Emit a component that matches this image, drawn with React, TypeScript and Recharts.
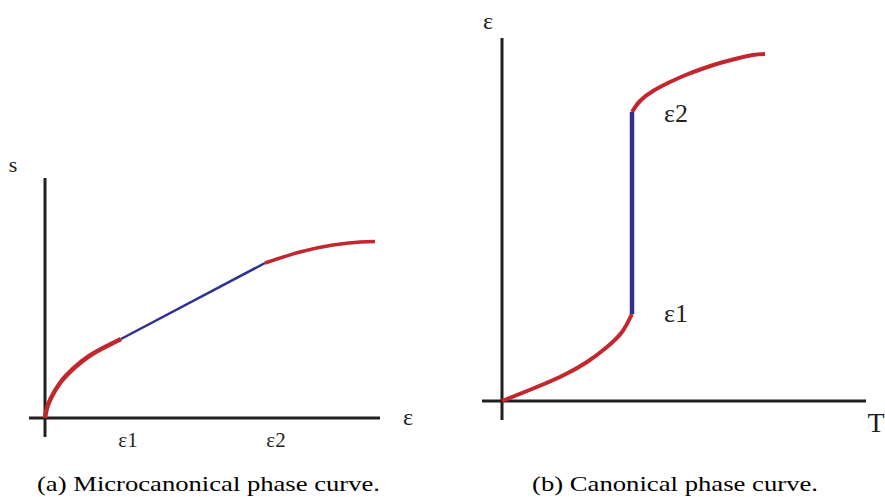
import React from "react";
import { LineChart, Line, XAxis, YAxis, ReferenceLine, ReferenceDot } from "recharts";

// (a) Microcanonical: entropy s versus energy ε
const microLow = [
  { x: 0, y: 0 },
  { x: 0.02, y: 0.1 },
  { x: 0.06, y: 0.2 },
  { x: 0.15, y: 0.35 },
  { x: 0.29, y: 0.5 },
  { x: 0.45, y: 0.625 },
  { x: 0.62, y: 0.72 },
  { x: 0.76, y: 0.79 },
];
const microTie = [
  { x: 0.76, y: 0.79 },
  { x: 2.2, y: 1.55 },
];
const microHigh = [
  { x: 2.2, y: 1.55 },
  { x: 2.55, y: 1.66 },
  { x: 2.88, y: 1.73 },
  { x: 3.15, y: 1.76 },
  { x: 3.3, y: 1.765 },
];

// (b) Canonical: energy ε versus temperature T
const canLow = [
  { x: 0, y: 0 },
  { x: 0.3, y: 0.12 },
  { x: 0.6, y: 0.25 },
  { x: 0.85, y: 0.39 },
  { x: 1.05, y: 0.54 },
  { x: 1.2, y: 0.69 },
  { x: 1.3, y: 0.87 },
];
const canJump = [
  { x: 1.3, y: 0.87 },
  { x: 1.3, y: 2.89 },
];
const canHigh = [
  { x: 1.3, y: 2.89 },
  { x: 1.38, y: 3.0 },
  { x: 1.51, y: 3.1 },
  { x: 1.68, y: 3.19 },
  { x: 1.85, y: 3.265 },
  { x: 2.01, y: 3.325 },
  { x: 2.18, y: 3.38 },
  { x: 2.35, y: 3.425 },
  { x: 2.51, y: 3.46 },
  { x: 2.63, y: 3.47 },
];

const microTickLabels = ["ε1", "ε2"];
const canTickLabels = ["ε2", "ε1"];
const captions = ["(a) Microcanonical phase curve.", "(b) Canonical phase curve."];

const RED = "#c1272d";
const BLUE = "#2e3192";
const INK = "#231f20";
const FONT = "Liberation Serif";

const textShape = (text: string, size: number) => (props: any) => (
  <text
    x={props.cx}
    y={props.cy}
    textAnchor="middle"
    style={{ fontFamily: FONT, fontSize: size }}
    fill={INK}
  >
    {text}
  </text>
);

export default function App() {
  return (
    <div style={{ position: "absolute", left: 0, top: 0, width: 885, height: 497, background: "#fff" }}>
      <div style={{ position: "absolute", left: 0, top: 150 }}>
        <LineChart width={440} height={310} margin={{ top: 0, right: 0, bottom: 0, left: 0 }}>
          <XAxis dataKey="x" type="number" domain={[-0.45, 3.95]} allowDataOverflow hide />
          <YAxis dataKey="y" type="number" domain={[-0.42, 2.68]} allowDataOverflow hide />
          <ReferenceLine segment={[{ x: -0.16, y: 0 }, { x: 3.35, y: 0 }]} stroke={INK} strokeWidth={3} />
          <ReferenceLine segment={[{ x: 0, y: -0.19 }, { x: 0, y: 2.4 }]} stroke={INK} strokeWidth={3} />
          <Line data={microTie} dataKey="y" type="linear" stroke={BLUE} strokeWidth={2.5} dot={false} activeDot={false} isAnimationActive={false} />
          <Line data={microLow} dataKey="y" type="natural" stroke={RED} strokeWidth={4.5} dot={false} activeDot={false} isAnimationActive={false} />
          <Line data={microHigh} dataKey="y" type="natural" stroke={RED} strokeWidth={3.5} dot={false} activeDot={false} isAnimationActive={false} />
          <ReferenceDot x={-0.32} y={2.46} r={0} shape={textShape("s", 22)} />
          <ReferenceDot x={3.63} y={-0.07} r={0} shape={textShape("ε", 24)} />
          <ReferenceDot x={0.83} y={-0.29} r={0} shape={textShape(microTickLabels[0], 21)} />
          <ReferenceDot x={2.31} y={-0.29} r={0} shape={textShape(microTickLabels[1], 21)} />
        </LineChart>
      </div>
      <div style={{ position: "absolute", left: 470, top: 0 }}>
        <LineChart width={415} height={440} margin={{ top: 0, right: 0, bottom: 0, left: 0 }}>
          <XAxis dataKey="x" type="number" domain={[-0.32, 3.83]} allowDataOverflow hide />
          <YAxis dataKey="y" type="number" domain={[-0.39, 4.01]} allowDataOverflow hide />
          <ReferenceLine segment={[{ x: -0.2, y: 0 }, { x: 3.64, y: 0 }]} stroke={INK} strokeWidth={3} />
          <ReferenceLine segment={[{ x: 0, y: -0.19 }, { x: 0, y: 3.63 }]} stroke={INK} strokeWidth={3} />
          <Line data={canJump} dataKey="y" type="linear" stroke={BLUE} strokeWidth={4.5} dot={false} activeDot={false} isAnimationActive={false} />
          <Line data={canLow} dataKey="y" type="natural" stroke={RED} strokeWidth={4} dot={false} activeDot={false} isAnimationActive={false} />
          <Line data={canHigh} dataKey="y" type="natural" stroke={RED} strokeWidth={4} dot={false} activeDot={false} isAnimationActive={false} />
          <ReferenceDot x={-0.14} y={3.72} r={0} shape={textShape("ε", 24)} />
          <ReferenceDot x={3.74} y={-0.31} r={0} shape={textShape("T", 28)} />
          <ReferenceDot x={1.74} y={2.79} r={0} shape={textShape(canTickLabels[0], 26)} />
          <ReferenceDot x={1.74} y={0.79} r={0} shape={textShape(canTickLabels[1], 26)} />
        </LineChart>
      </div>
      <svg width={885} height={40} style={{ position: "absolute", left: 0, top: 460 }}>
        <text x={37} y={31} style={{ fontFamily: FONT, fontSize: 22 }} fill="#000" textLength={343} lengthAdjust="spacingAndGlyphs">
          {captions[0]}
        </text>
        <text x={532} y={31} style={{ fontFamily: FONT, fontSize: 22 }} fill="#000" textLength={286} lengthAdjust="spacingAndGlyphs">
          {captions[1]}
        </text>
      </svg>
    </div>
  );
}
